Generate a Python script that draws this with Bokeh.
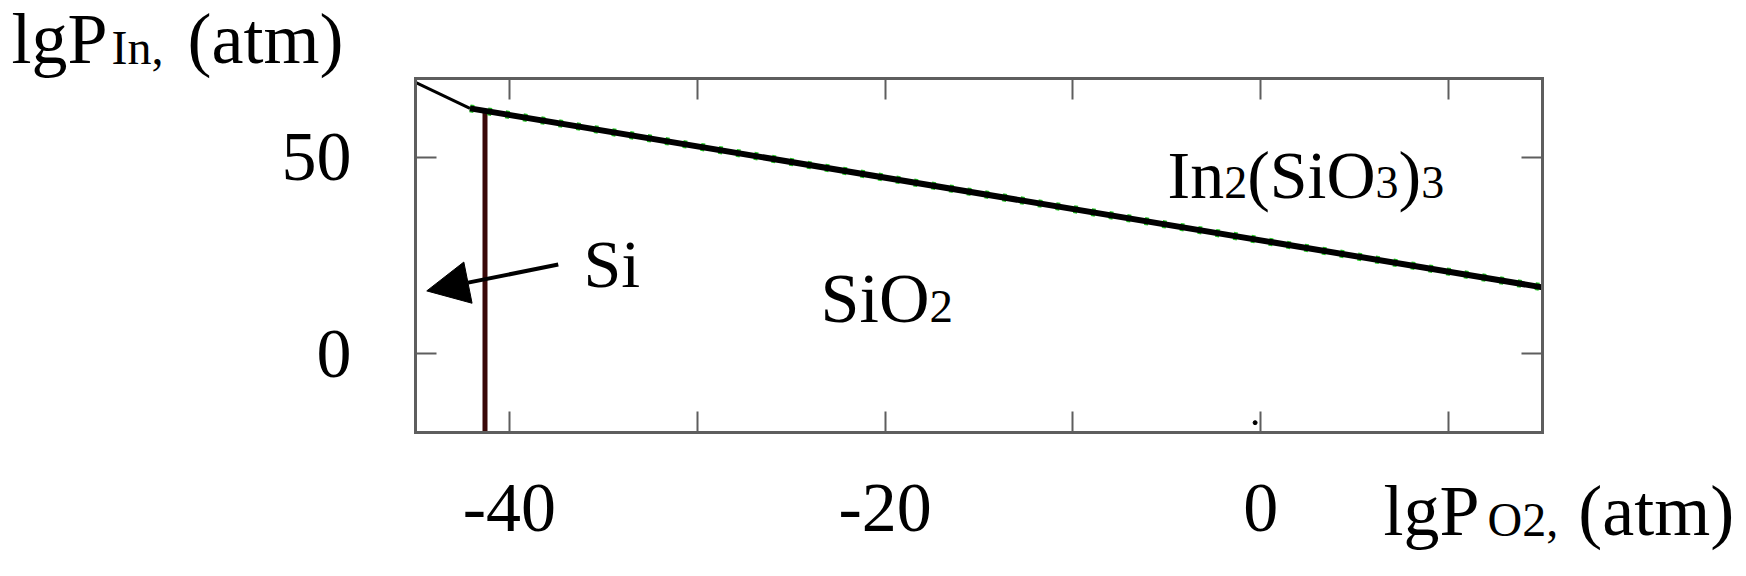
from bokeh.plotting import figure
from bokeh.models import LinearAxis, FixedTicker, Label, Arrow, NormalHead, Range1d
from bokeh.embed import file_html
from bokeh.resources import INLINE

# ---------------- data ----------------
x_lim = [-45, 15]
y_lim = [-20, 70]
x_major = [-40, -20, 0]
x_minor = [-30, -10, 10]
x_tick_labels = {-40: "-40", -20: "-20", 0: "0"}
y_major = [0, 50]
y_tick_labels = {0: "0", 50: "50"}

# Si / In2(SiO3)3 boundary (thin line, upper left)
si_in_x = [-45.0, -42.1]
si_in_y = [69.0, 62.4]
# SiO2 / In2(SiO3)3 boundary (thick line)
sio2_in_x = [-42.1, 15.0]
sio2_in_y = [62.4, 16.9]
# Si / SiO2 boundary (vertical line)
si_sio2_x = [-41.3, -41.3]
si_sio2_y = [-20.0, 61.7]
# arrow pointing to the Si field (tail -> tip)
si_arrow_x = [-37.4, -44.4]
si_arrow_y = [22.7, 16.0]
# small stray dot near the x axis
dot_x = [-0.3]
dot_y = [-17.5]

FONT = "Liberation Serif"
AX = "#5e5e5e"

# plot box geometry in page pixels (the whole canvas is the frame,
# the box is drawn by axes fixed at the range limits)
FL, FT, FW, FH = 415, 78, 1127, 354
PW, PH = 1746, 576
sx = FW / (x_lim[1] - x_lim[0])
sy = FH / (y_lim[1] - y_lim[0])
view_x = (x_lim[0] - FL / sx, x_lim[1] + (PW - FL - FW) / sx)
view_y = (y_lim[0] - (PH - FT - FH) / sy, y_lim[1] + FT / sy)

p = figure(
    frame_width=PW, frame_height=PH, min_border=0,
    x_range=Range1d(*view_x), y_range=Range1d(*view_y),
    output_backend="svg", toolbar_location=None,
    background_fill_color="white", border_fill_color="white",
)
p.title.visible = False
p.grid.visible = False
p.outline_line_color = None


def style_axis(ax, show_labels, standoff, overrides):
    ax.axis_line_color = AX
    ax.axis_line_width = 3
    ax.axis_line_cap = "square"
    ax.major_tick_line_color = AX
    ax.major_tick_line_width = 2
    ax.major_tick_in = 21
    ax.major_tick_out = 0
    ax.minor_tick_line_color = AX
    ax.minor_tick_line_width = 2
    ax.minor_tick_in = 21
    ax.minor_tick_out = 0
    ax.major_label_text_font = FONT
    ax.major_label_standoff = standoff
    ax.major_label_overrides = overrides
    ax.major_label_text_font_size = "70px"
    ax.major_label_text_color = "black" if show_labels else None


bottom_ax = p.xaxis[0]
left_ax = p.yaxis[0]
bottom_ax.ticker = FixedTicker(ticks=x_major, minor_ticks=x_minor)
left_ax.ticker = FixedTicker(ticks=y_major, minor_ticks=[])
bottom_ax.fixed_location = y_lim[0]
bottom_ax.bounds = tuple(x_lim)
left_ax.fixed_location = x_lim[0]
left_ax.bounds = tuple(y_lim)
style_axis(bottom_ax, True, 52, x_tick_labels)
style_axis(left_ax, True, 64, y_tick_labels)

top_ax = LinearAxis(ticker=FixedTicker(ticks=x_major, minor_ticks=x_minor),
                    fixed_location=y_lim[1], bounds=tuple(x_lim))
right_ax = LinearAxis(ticker=FixedTicker(ticks=y_major, minor_ticks=[]),
                      fixed_location=x_lim[1], bounds=tuple(y_lim))
style_axis(top_ax, False, 0, {})
style_axis(right_ax, False, 0, {})
p.add_layout(top_ax, "above")
p.add_layout(right_ax, "right")

# ---------------- lines ----------------
p.line(si_sio2_x, si_sio2_y, line_color="#3a0808", line_width=5)
p.line(si_in_x, si_in_y, line_color="black", line_width=3)
p.line(sio2_in_x, sio2_in_y, line_color="#22cc22", line_width=8, line_dash="4 14")
p.line(sio2_in_x, sio2_in_y, line_color="black", line_width=6)
p.scatter(dot_x, dot_y, size=4, color="black")

p.add_layout(Arrow(
    x_start=si_arrow_x[0], y_start=si_arrow_y[0],
    x_end=si_arrow_x[1], y_end=si_arrow_y[1],
    line_color="black", line_width=4,
    end=NormalHead(size=42, fill_color="black", line_color="black", line_width=1),
))

# ---------------- texts ----------------
W = {"l": .278, "g": .5, "P": .556, "I": .333, "n": .5, ",": .25, " ": .25,
     "(": .333, "a": .444, "t": .278, "m": .778, ")": .333, "S": .556,
     "i": .278, "O": .722}
BASE_K = 0.34  # empirical baseline correction of rendered labels


def tw(s, size):
    return sum(W.get(c, 0.5) for c in s) * size


def px_to_data(px, py):
    x = x_lim[0] + (px - FL) / sx
    y = y_lim[1] - (py - FT) / sy
    return x, y


def rich(parts, px, py):
    for txt, size, gap in parts:
        px += gap
        x, y = px_to_data(px, py - BASE_K * size)
        p.add_layout(Label(x=x, y=y, text=txt, text_font=FONT,
                           text_font_size=f"{size}px", text_color="black",
                           text_align="left", text_baseline="alphabetic"))
        px += tw(txt, size)


# axis titles
rich([("lgP", 72, 0), ("In,", 48, 4), ("(atm)", 72, 24)], 11, 63)
rich([("lgP", 72, 0), ("O2,", 48, 8), ("(atm)", 72, 20)], 1383, 535)

# phase fields
rich([("Si", 68, 0)], 583, 287)
rich([("SiO", 70, 0), ("2", 47, 0)], 820, 322)
rich([("In", 68, 0), ("2", 46, 0), ("(SiO", 68, 0), ("3", 46, 0),
      (")", 68, 0), ("3", 46, 0)], 1167, 198)

open("out.html", "w").write(file_html(p, INLINE))
